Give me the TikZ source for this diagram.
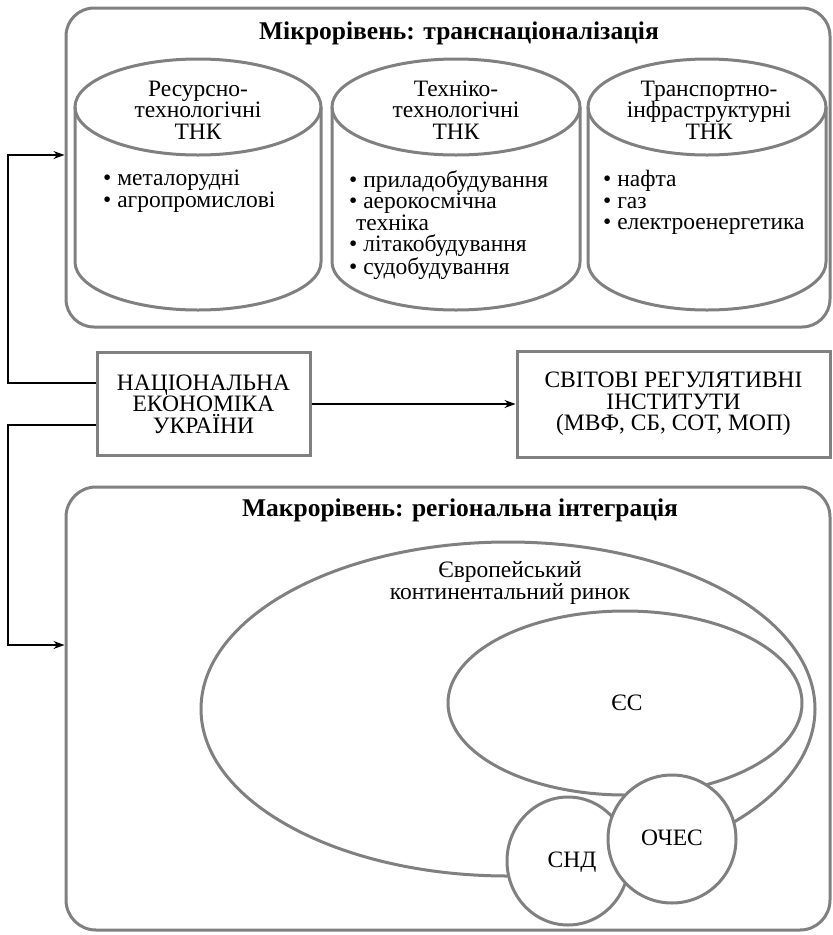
\documentclass[tikz,border=0pt]{standalone}
\usepackage{fontspec}
\setmainfont{Liberation Serif}
\usetikzlibrary{arrows.meta,shapes.geometric}
\definecolor{gframe}{RGB}{128,128,128}
\newcommand{\tf}{\fontsize{23.5}{21.5}\selectfont}
\newcommand{\ttlf}{\fontsize{25.5}{26}\selectfont\bfseries}
\begin{document}
\begin{tikzpicture}[x=1pt,y=-1pt,
  frame/.style={draw=gframe,line width=3pt,rounded corners=28pt},
  gline/.style={draw=gframe,line width=3pt},
  sbox/.style={draw=gframe,line width=3pt,align=center,font=\tf,inner sep=0pt},
  ell/.style={draw=gframe,line width=3pt,ellipse,inner sep=0pt},
  conn/.style={draw=black,line width=1.3pt},
  arr/.style={conn,-{Stealth[length=11pt,width=8pt]}},
  txt/.style={align=center,font=\tf,inner sep=0pt},
  lst/.style={align=left,font=\tf,inner sep=0pt,anchor=north west},
  ttl/.style={font=\ttlf,inner sep=0pt}]
\useasboundingbox (0,0) rectangle (833,935);

% top frame
\node[frame,minimum width=764pt,minimum height=319pt,inner sep=0pt] (micro) at (448,167.5) {};
\node[ttl] (mtitle) at (459,33) {Мікрорівень: транснаціоналізація};

% cylinders
\foreach \cx/\r in {198/123,456/124,707/119}{
  \draw[gline] (\cx,107) ellipse [x radius=\r, y radius=48];
  \draw[gline] (\cx-\r,107) -- (\cx-\r,262) arc[start angle=180,end angle=0,x radius=\r,y radius=48] -- (\cx+\r,107);
}
\node[txt] (c1h) at (198,110) {Ресурсно-\\технологічні\\ТНК};
\node[txt] (c2h) at (456,110) {Техніко-\\технологічні\\ТНК};
\node[txt] (c3h) at (709,110) {Транспортно-\\інфраструктурні\\ТНК};
\node[lst] (c1l) at (103,170) {• металорудні\\• агропромислові};
\node[lst] (c2l) at (349,170) {• приладобудування\\• аерокосмічна\\\hspace*{7pt}техніка\\• літакобудування\\• судобудування};
\node[lst] (c3l) at (603,170) {• нафта\\• газ\\• електроенергетика};

% middle boxes
\node[sbox,minimum width=213pt,minimum height=103pt] (neu) at (203.5,404) {НАЦІОНАЛЬНА\\ЕКОНОМІКА\\УКРАЇНИ};
\node[sbox,minimum width=313pt,minimum height=106pt] (svit) at (673.5,404) {СВІТОВІ РЕГУЛЯТИВНІ\\ІНСТИТУТИ\\(МВФ, СБ, СОТ, МОП)};
\draw[arr] (neu.east) -- (svit.west);

% bottom frame
\node[frame,minimum width=764pt,minimum height=443pt,inner sep=0pt,rounded corners=30pt] (macro) at (448,708.5) {};
\node[ttl] (btitle) at (460,510) {Макрорівень: регіональна інтеграція};

% connectors
\coordinate (l1) at (8,383);
\coordinate (l2) at (8,425);
\coordinate (m1) at (0,155);
\coordinate (m2) at (0,645);
\draw[arr] (neu.west |- l1) -- (l1) |- (micro.west |- m1);
\draw[arr] (neu.west |- l2) -- (l2) |- (macro.west |- m2);

% ellipses
\node[ell,minimum width=614pt,minimum height=334pt] (ecr) at (508,709) {};
\node[ell,minimum width=354pt,minimum height=184pt] (eu) at (625,703) {};
\node[ell,fill=white,minimum width=122pt,minimum height=128pt] (snd) at (568,861) {};
\node[ell,fill=white,minimum width=128pt,minimum height=128pt] (oches) at (672,839) {};
\node[txt] (ecrt) at (510,583) {Європейський\\континентальний ринок};
\node[txt] (eut) at (627,703) {ЄС};
\node[txt] (sndt) at (572,862) {СНД};
\node[txt] (ochest) at (672,838) {ОЧЕС};
\end{tikzpicture}
\end{document}
